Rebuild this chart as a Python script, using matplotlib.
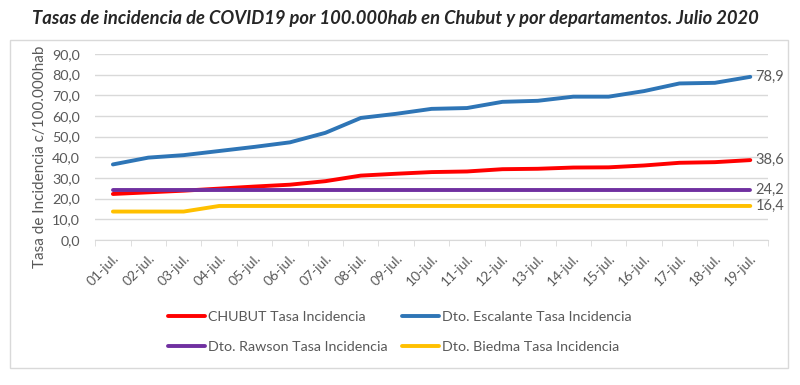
import matplotlib
matplotlib.use('Agg')
import numpy as np
import matplotlib.pyplot as plt
from matplotlib.patches import Rectangle

plt.rcParams['font.family'] = ['Lato', 'DejaVu Sans']

dias = ['01-jul.', '02-jul.', '03-jul.', '04-jul.', '05-jul.', '06-jul.', '07-jul.',
        '08-jul.', '09-jul.', '10-jul.', '11-jul.', '12-jul.', '13-jul.', '14-jul.',
        '15-jul.', '16-jul.', '17-jul.', '18-jul.', '19-jul.']
chubut = [22.2, 23.0, 23.8, 24.8, 25.8, 26.7, 28.4, 31.1, 32.0, 32.8, 33.1, 34.2,
          34.4, 35.0, 35.1, 36.0, 37.3, 37.6, 38.6]
escalante = [36.5, 39.8, 41.0, 43.0, 45.0, 47.2, 51.8, 59.0, 61.0, 63.4, 63.8, 66.8,
             67.3, 69.3, 69.3, 72.0, 75.7, 76.0, 78.9]
rawson = [24.2] * 19
biedma = [13.7, 13.7, 13.7, 16.4, 16.4, 16.4, 16.4, 16.4, 16.4, 16.4, 16.4, 16.4,
          16.4, 16.4, 16.4, 16.4, 16.4, 16.4, 16.4]

gris = '#595959'
W, H = 800, 385
fig = plt.figure(figsize=(8, 3.85), dpi=100)
fig.patches.append(Rectangle((10 / W, 1 - 368 / H), 778 / W, 328 / H,
                             transform=fig.transFigure, fill=False,
                             edgecolor='#D9D9D9', linewidth=1))
ax = fig.add_axes([0.119, 0.377, 0.841, 0.483])

x = np.arange(len(dias))
series = [
    (chubut, '#FF0000', 'CHUBUT Tasa Incidencia'),
    (rawson, '#7030A0', 'Dto. Rawson Tasa Incidencia'),
    (escalante, '#2E75B6', 'Dto. Escalante Tasa Incidencia'),
    (biedma, '#FFC000', 'Dto. Biedma Tasa Incidencia'),
]
for vals, col, lab in series:
    ax.plot(x, vals, color=col, linewidth=2.8, label=lab, solid_capstyle='round')
    ax.text(x[-1] + 0.15, vals[-1], f'{vals[-1]:.1f}'.replace('.', ','),
            va='center', ha='left', fontsize=10.5, color=gris)

ax.set_xlim(-0.5, len(dias) - 0.5)
ax.set_ylim(0, 90)
ax.set_yticks(np.arange(0, 91, 10))
ax.set_yticklabels([f'{v:.1f}'.replace('.', ',') for v in np.arange(0, 91, 10)],
                   fontsize=10.3, color=gris)
ax.set_xticks(x)
ax.set_xticklabels(dias, rotation=45, ha='right', rotation_mode='anchor',
                   fontsize=10, color=gris)
ax.set_xticks(np.arange(-0.5, len(dias)), minor=True)
ax.tick_params(axis='x', which='major', length=0, pad=9)
ax.tick_params(axis='x', which='minor', length=4, color='#D9D9D9')
ax.tick_params(axis='y', length=0, pad=11)
ax.grid(axis='y', color='#D9D9D9', linewidth=1)
ax.set_axisbelow(True)
for s in ['top', 'right', 'left']:
    ax.spines[s].set_visible(False)
ax.spines['bottom'].set_color('#D9D9D9')

fig.text(40 / W, 1 - 46 / H, 'Tasa de Incidencia c/100.000hab', rotation=90,
         ha='center', va='top', fontsize=11, color=gris)

fig.text(0.494, 0.953, 'Tasas de incidencia de COVID19 por 100.000hab en Chubut y por departamentos. Julio 2020',
         ha='center', va='center', fontsize=13.2, fontweight='bold', style='italic', color='#262626')

fig.legend(loc='center', bbox_to_anchor=(0.50, 0.138), ncol=2, frameon=False,
           fontsize=10.3, labelcolor=gris, handlelength=2.6, handletextpad=0.2,
           columnspacing=1.0, labelspacing=1.3)

fig.savefig('out.png', dpi=100)
